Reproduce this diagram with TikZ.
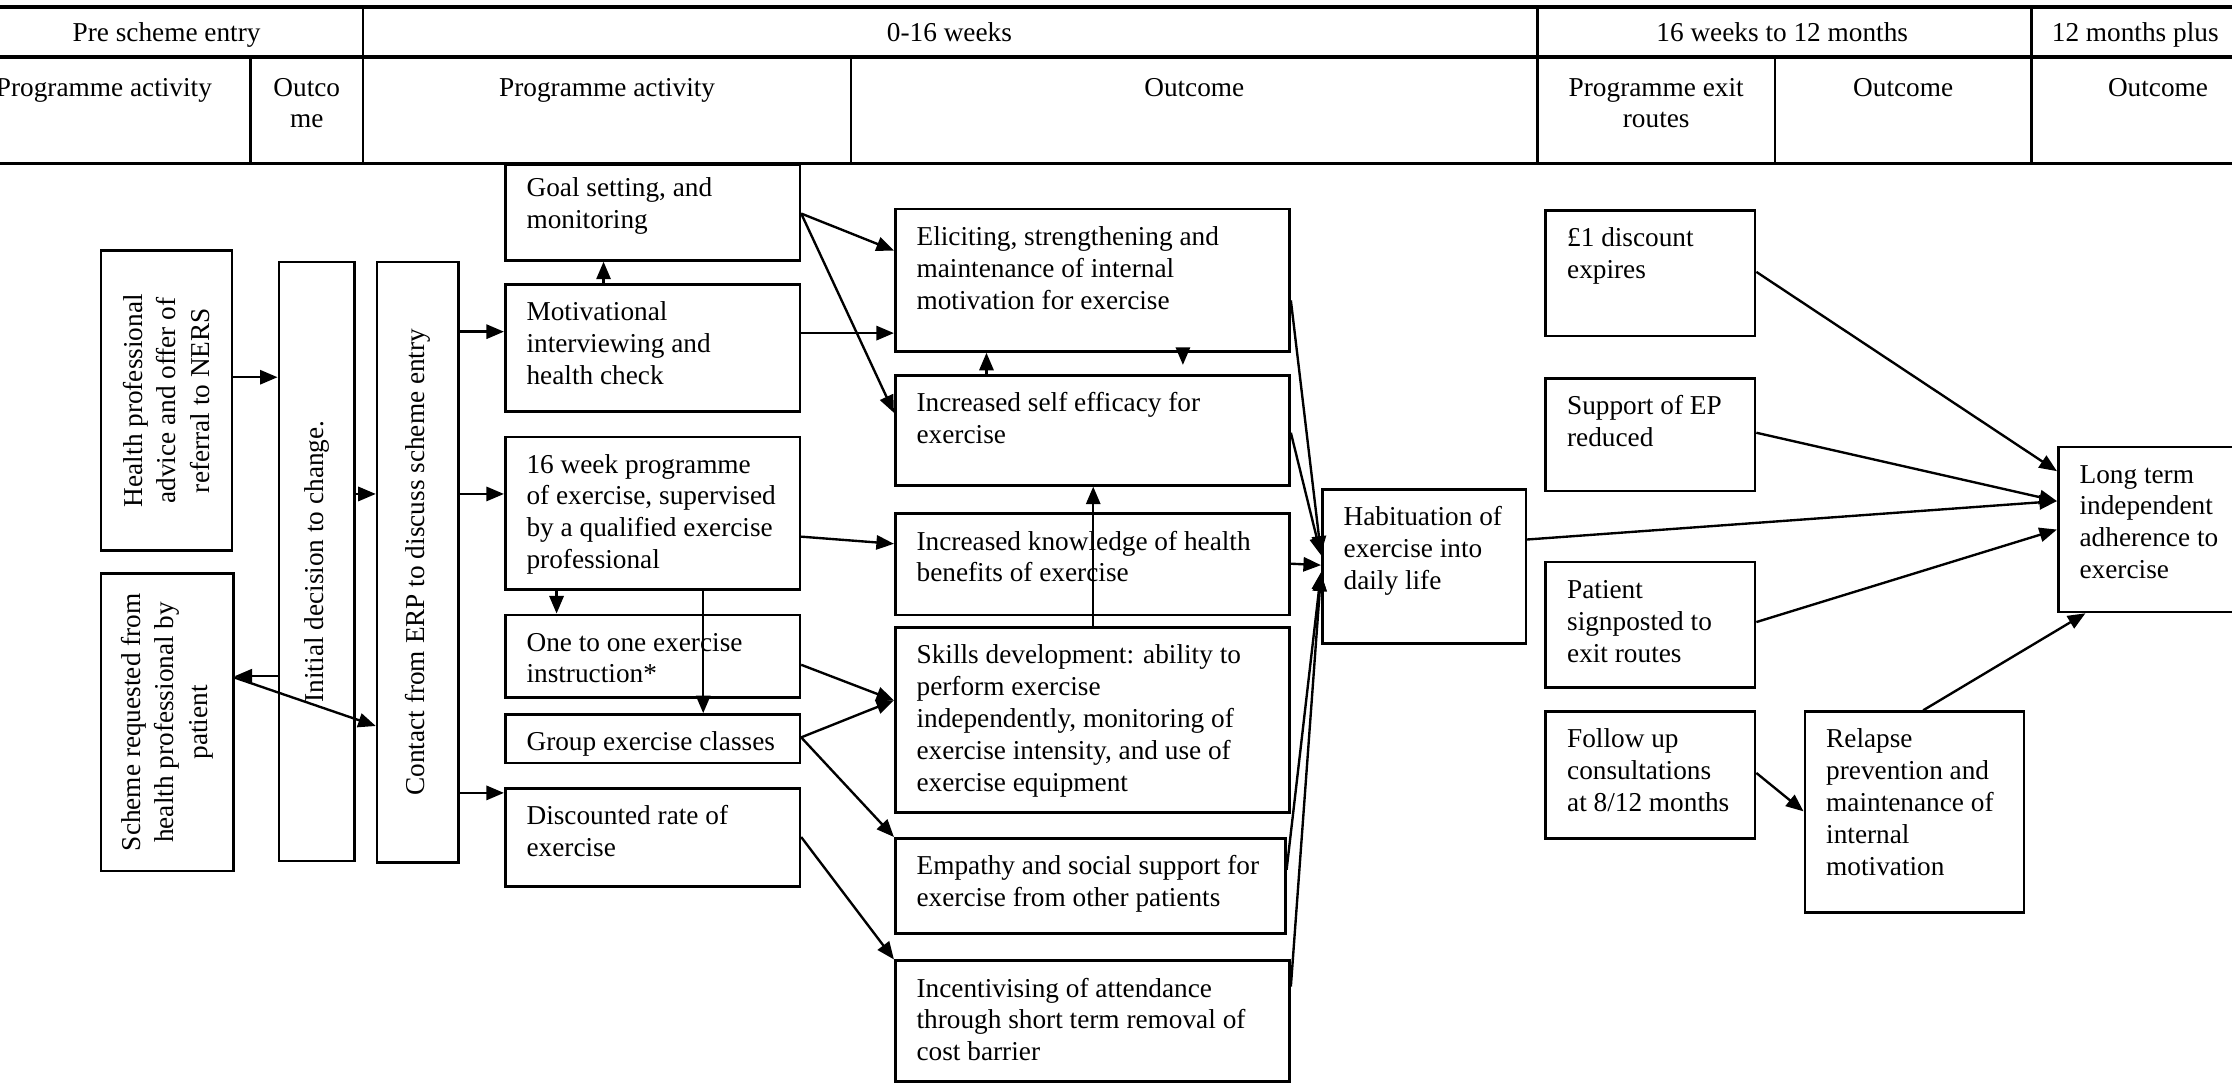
\documentclass[tikz,border=0pt]{standalone}
\usepackage{fontspec}
\setmainfont{Liberation Serif}
\usetikzlibrary{arrows.meta}
\newdimen\pxu \pxu=0.6pt
\newcommand\bodyfont{\fontsize{11.5}{13.4}\selectfont}
\newcommand\rotfont{\fontsize{11.5}{14.2}\selectfont}
\newcommand\celltext[4][15.3pt]{\parbox[c][#3\pxu][t]{#2\pxu}{\leftskip=9pt\rightskip=-40pt plus 1fil\parfillskip=0pt plus 1fil\rule{0pt}{#1}#4}}
\tikzset{
  bx/.style={draw, line width=1.1pt, anchor=north west, inner sep=0pt, font=\bodyfont},
  rot/.style={rotate=90, align=center, font=\rotfont, inner sep=0pt},
  hd/.style={font=\bodyfont, inner sep=0pt, anchor=base},
  hline/.style={line width=1.5pt},
  vline/.style={line width=1pt},
  arr/.style={-{Triangle[length=7.4pt,width=6pt]}, line width=1pt}
}
\begin{document}
\begin{tikzpicture}[x=0.6pt,y=-0.6pt]
\clip (0,0) rectangle (1568,762);
\useasboundingbox (0,0) rectangle (1568,762);
\fill[white] (0,0) rectangle (1568,762);

% header grid
\draw[hline] (-10,5) -- (1580,5);
\draw[hline] (-10,40) -- (1580,40);
\draw[hline] (-10,115) -- (1580,115);
\draw[vline] (255,5) -- (255,115);
\draw[vline] (1080,5) -- (1080,115);
\draw[vline] (1427,5) -- (1427,115);
\draw[vline] (176,40) -- (176,115);
\draw[vline] (598,40) -- (598,115);
\draw[vline] (1247,40) -- (1247,115);

% header texts
\node[hd] (h1) at (117,29.5) {Pre scheme entry};
\node[hd] (h2) at (667,29.5) {0-16 weeks};
\node[hd] (h3) at (1252,29.5) {16 weeks to 12 months};
\node[hd] (h4) at (1500,29.5) {12 months plus};
\node[hd] (s1) at (73,67.5) {Programme activity};
\node[hd] (s2) at (215.5,67.5) {\parbox[t]{60pt}{\centering Outco\\me}};
\node[hd] (s3) at (426.5,67.5) {Programme activity};
\node[hd] (s4) at (839,67.5) {Outcome};
\node[hd] (s5) at (1163.5,67.5) {\parbox[t]{100pt}{\centering Programme exit\\routes}};
\node[hd] (s6) at (1337,67.5) {Outcome};
\node[hd] (s7) at (1516,67.5) {Outcome};

% pre-scheme boxes
\node[bx, minimum width=92\pxu, minimum height=211\pxu] (hp) at (70,175) {};
\node[rot] (hpt) at (hp.center) {Health professional\\advice and offer of\\referral to NERS};
\node[bx, minimum width=93\pxu, minimum height=209\pxu] (sr) at (70,402) {};
\node[rot] (srt) at (sr.center) {Scheme requested from\\health professional by\\patient};
\node[bx, minimum width=53\pxu, minimum height=421\pxu] (init) at (195,183) {};
\node[rot] (initt) at (init.center) {Initial decision to change.};
\node[bx, minimum width=57\pxu, minimum height=422\pxu] (erp) at (264,183) {};
\node[rot] (erpt) at (erp.center) {Contact from ERP to discuss scheme entry};

% programme activity boxes
\node[bx] (gs) at (354,115) {\celltext[13.2pt]{207}{67}{Goal setting, and\\monitoring}};
\node[bx] (mi) at (354,199) {\celltext{207}{89}{Motivational\\interviewing and\\health check}};
\node[bx] (p16) at (354,306) {\celltext{207}{107}{16 week programme\\of exercise, supervised\\by a qualified exercise\\professional}};
\node[bx] (oto) at (354,431) {\celltext{207}{58}{One to one exercise\\instruction*}};
\node[bx] (grp) at (354,501) {\celltext{207}{34}{Group exercise classes}};
\node[bx] (disc) at (354,553) {\celltext{207}{69}{Discounted rate of\\exercise}};

% outcome boxes
\node[bx] (elic) at (628,146) {\celltext{277}{100}{Eliciting, strengthening and\\maintenance of internal\\motivation for exercise}};
\node[bx] (self) at (628,263) {\celltext{277}{77}{Increased self efficacy for\\exercise}};
\node[bx] (know) at (628,360) {\celltext{277}{71}{Increased knowledge of health\\benefits of exercise}};
\node[bx] (skill) at (628,440) {\celltext{277}{130}{Skills development: ability to\\perform exercise\\independently, monitoring of\\exercise intensity, and use of\\exercise equipment}};
\node[bx] (emp) at (628,588) {\celltext{274}{67}{Empathy and social support for\\exercise from other patients}};
\node[bx] (inc) at (628,674) {\celltext{277}{85}{Incentivising of attendance\\through short term removal of\\cost barrier}};
\node[bx] (hab) at (928,343) {\celltext{143}{108}{Habituation of\\exercise into\\daily life}};

% exit routes and later outcomes
\node[bx] (d1) at (1085,147) {\celltext{147}{88}{£1 discount\\expires}};
\node[bx] (sep) at (1085,265) {\celltext{147}{79}{Support of EP\\reduced}};
\node[bx] (pat) at (1085,394) {\celltext{147}{88}{Patient\\signposted to\\exit routes}};
\node[bx] (fol) at (1085,499) {\celltext{147}{89}{Follow up\\consultations\\at 8/12 months}};
\node[bx] (rel) at (1267,499) {\celltext{154}{141}{Relapse\\prevention and\\maintenance of\\internal\\motivation}};
\node[bx] (lt) at (1445,313) {\celltext{140}{116}{Long term\\independent\\adherence to\\exercise}};

% connectors: pre-scheme
\draw[arr] (hp.east |- 0,265) -- (init.west |- 0,265);
\draw[arr] (init.east |- 0,347) -- (erp.west |- 0,347);
\draw[arr] (init.west |- 0,475) -- (sr.east |- 0,475);
\draw[arr] (sr.east |- 0,476) -- (erp.west |- 0,510);
\draw[arr] (erp.east |- 0,233) -- (mi.west |- 0,233);
\draw[arr] (erp.east |- 0,347) -- (p16.west |- 0,347);
\draw[arr] (erp.east |- 0,557) -- (disc.west |- 0,557);

% connectors: programme activity
\draw[arr] (mi.north -| 424,0) -- (gs.south -| 424,0);
\draw[arr] (p16.south -| 391,0) -- (oto.north -| 391,0);
\draw[arr] (p16.south -| 494,0) -- (grp.north -| 494,0);
\draw[arr] (gs.east |- 0,150) -- (elic.west |- 0,176);
\draw[arr] (gs.east |- 0,150) -- (self.west |- 0,290);
\draw[arr] (mi.east |- 0,234) -- (elic.west |- 0,234);
\draw[arr] (p16.east |- 0,377) -- (know.west |- 0,382);
\draw[arr] (oto.east |- 0,467) -- (skill.west |- 0,492);
\draw[arr] (grp.east |- 0,518) -- (skill.west |- 0,492);
\draw[arr] (grp.east |- 0,518) -- (emp.north west);
\draw[arr] (disc.east |- 0,588) -- (inc.north west);

% connectors: outcomes
\draw[arr] (self.north -| 693,0) -- (elic.south -| 693,0);
\draw[arr, shorten >=4pt] (elic.south -| 831,0) -- (self.north -| 831,0);
\draw[arr] (skill.north -| 768,0) -- (self.south -| 768,0);
\draw[arr] (elic.east |- 0,211) -- (hab.west |- 0,389);
\draw[arr] (self.east |- 0,304) -- (hab.west |- 0,390);
\draw[arr] (know.east |- 0,396) -- (hab.west |- 0,397);
\draw[arr] (emp.east |- 0,611) -- (hab.west |- 0,402);
\draw[arr] (inc.east |- 0,693) -- (hab.west |- 0,403);

% connectors: exit routes
\draw[arr] (d1.east |- 0,191) -- (lt.west |- 0,331);
\draw[arr] (sep.east |- 0,304) -- (lt.west |- 0,352);
\draw[arr] (hab.east |- 0,379) -- (lt.west |- 0,352);
\draw[arr] (pat.east |- 0,437) -- (lt.west |- 0,372);
\draw[arr] (fol.east |- 0,543) -- (rel.west |- 0,570);
\draw[arr] (rel.north -| 1351,0) -- (lt.south -| 1465,0);
\end{tikzpicture}
\end{document}
